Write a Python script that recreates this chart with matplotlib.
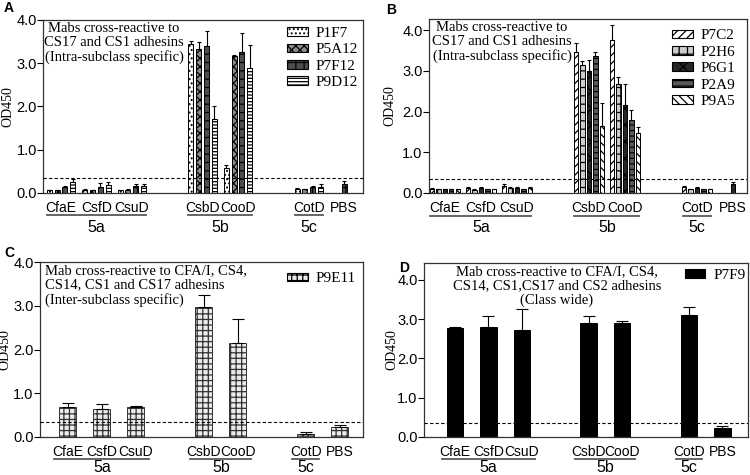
import numpy as np
import matplotlib
import matplotlib.pyplot as plt
from matplotlib.patches import Patch
from matplotlib.transforms import blended_transform_factory

matplotlib.rcParams['font.family'] = 'Liberation Sans'
matplotlib.rcParams['hatch.linewidth'] = 0.9
serif = 'Liberation Serif'

antigens = ['CfaE', 'CsfD', 'CsuD', 'CsbD', 'CooD', 'CotD', 'PBS']
groups = ['5a', '5b', '5c']
group_members = [(0, 2), (3, 4), (5, 5)]
cutoff = 0.35

# A: intra-subclass mabs (values for CfaE..CotD), PBS control separate
mabs_a = ['P1F7', 'P5A12', 'P7F12', 'P9D12']
vals_a = [[0.07, 0.08, 0.07, 3.45, 0.58, 0.10],
          [0.07, 0.06, 0.07, 3.32, 3.17, 0.09],
          [0.14, 0.15, 0.16, 3.40, 3.27, 0.14],
          [0.25, 0.18, 0.16, 1.72, 2.90, 0.15]]
err_a = [[0.01, 0.02, 0.01, 0.07, 0.07, 0.02],
         [0.01, 0.02, 0.02, 0.16, 0.03, 0.01],
         [0.03, 0.07, 0.04, 0.35, 0.43, 0.03],
         [0.07, 0.07, 0.04, 0.30, 0.53, 0.05]]
pbs_a, pbs_err_a = 0.20, 0.07

# B
mabs_b = ['P7C2', 'P2H6', 'P6G1', 'P2A9', 'P9A5']
vals_b = [[0.11, 0.13, 0.18, 3.47, 3.76, 0.14],
          [0.09, 0.08, 0.13, 3.14, 2.67, 0.09],
          [0.09, 0.12, 0.12, 3.00, 2.16, 0.13],
          [0.10, 0.10, 0.09, 3.37, 1.79, 0.10],
          [0.10, 0.09, 0.13, 1.65, 1.47, 0.09]]
err_b = [[0.02, 0.02, 0.03, 0.22, 0.37, 0.02],
         [0.01, 0.01, 0.02, 0.09, 0.17, 0.01],
         [0.01, 0.02, 0.02, 0.27, 0.52, 0.02],
         [0.01, 0.01, 0.01, 0.09, 0.25, 0.01],
         [0.01, 0.01, 0.02, 0.55, 0.14, 0.01]]
pbs_b, pbs_err_b = 0.22, 0.06

# C (inter-subclass) and D (class wide), CfaE..PBS
mab_c = 'P9E11'
vals_c = [0.68, 0.64, 0.68, 2.98, 2.15, 0.08, 0.23]
err_c = [0.09, 0.12, 0.02, 0.27, 0.54, 0.03, 0.05]
mab_d = 'P7F9'
vals_d = [2.77, 2.81, 2.72, 2.89, 2.89, 3.10, 0.24]
err_d = [0.04, 0.27, 0.55, 0.20, 0.07, 0.21, 0.04]

# layout
xpos = np.array([0, 1, 2, 4, 5, 7, 8])
styles_a = [dict(facecolor='white', hatch='....'),
            dict(facecolor='0.55', hatch='xxxx'),
            dict(facecolor='0.3', hatch='++'),
            dict(facecolor='white', hatch='-----')]
styles_b = [dict(facecolor='white', hatch='////'),
            dict(facecolor='0.8', hatch='++'),
            dict(facecolor='0.15', hatch='xx'),
            dict(facecolor='0.35', hatch='---'),
            dict(facecolor='white', hatch='\\\\\\\\')]
style_c = dict(facecolor='0.92', hatch='+++')
style_d = dict(facecolor='black')

fig = plt.figure(figsize=(7.5, 4.75), dpi=100)
ax_a = fig.add_axes([43/750, 1-193/475, 320/750, 173/475])
ax_b = fig.add_axes([429/750, 1-193/475, 318/750, 174/475])
ax_c = fig.add_axes([40/750, 1-437/475, 323/750, 175/475])
ax_d = fig.add_axes([424/750, 1-437/475, 324/750, 174/475])


def err_bars(ax, x, y, e, cap):
    ax.errorbar(x, y, yerr=[np.zeros(len(e)), e], fmt='none', ecolor='black',
                elinewidth=0.8, capsize=cap, capthick=0.8, zorder=3)


def decorate(ax, xlim, ylim, ylab_x, lab_y, line_y, grp_y):
    ax.set_xlim(xlim)
    ax.set_ylim(ylim)
    ax.axhline(cutoff, color='black', ls=(0, (3, 2)), lw=0.8, zorder=4)
    ax.set_yticks([0, 1, 2, 3, 4])
    ax.set_yticklabels(['0.0', '1.0', '2.0', '3.0', '4.0'], fontsize=10.5)
    ax.tick_params(axis='y', length=4, width=0.8, pad=0.5)
    ax.set_xticks([])
    for s in ax.spines.values():
        s.set_linewidth(0.9)
        s.set_color('0.2')
    ax.set_ylabel('OD450', family=serif, fontsize=10)
    ax.yaxis.set_label_coords(ylab_x, 0.5)
    tr = blended_transform_factory(ax.transData, ax.transAxes)
    for p, name in zip(xpos, antigens):
        ax.text(p, lab_y, name, transform=tr, ha='center', va='center', fontsize=10)
    for (i0, i1), g in zip(group_members, groups):
        ax.plot([xpos[i0] - 0.4, xpos[i1] + 0.4], [line_y, line_y], transform=tr,
                color='0.35', lw=1.3, clip_on=False)
        ax.text((xpos[i0] + xpos[i1]) / 2, grp_y, g, transform=tr, ha='center',
                va='center', fontsize=11.5)


def legend(ax, names, styles, x, y):
    handles = [Patch(edgecolor='black', linewidth=0.8, **st) for st in styles]
    ax.legend(handles, names, loc='upper left', bbox_to_anchor=(x, y), frameon=False,
              prop={'family': serif, 'size': 11}, handlelength=1.35, handleheight=0.5,
              labelspacing=0.22, handletextpad=0.5, borderpad=0, borderaxespad=0)


# A
w, step = 0.14, 0.22
for k, (vals, errs, st) in enumerate(zip(vals_a, err_a, styles_a)):
    x = xpos[:6] + (k - 1.5) * step
    ax_a.bar(x, vals, width=w, edgecolor='black', linewidth=0.7, **st)
    err_bars(ax_a, x, vals, errs, 1.2)
ax_a.bar(xpos[6], pbs_a, width=w, edgecolor='black', linewidth=0.7, **styles_a[2])
err_bars(ax_a, [xpos[6]], [pbs_a], [pbs_err_a], 1.2)
decorate(ax_a, (-0.51, 8.53), (0, 4.0), -0.089, -0.087, -0.13, -0.2)
ax_a.text(0.222, 0.99, 'Mabs cross-reactive to\nCS17 and CS1 adhesins\n(Intra-subclass specific)',
          transform=ax_a.transAxes, ha='center', va='top', family=serif, fontsize=10.5,
          linespacing=1.1)
legend(ax_a, mabs_a, styles_a, 0.7625, 0.96)

# B
w, step = 0.12, 0.18
for k, (vals, errs, st) in enumerate(zip(vals_b, err_b, styles_b)):
    x = xpos[:6] + (k - 2) * step
    ax_b.bar(x, vals, width=w, edgecolor='black', linewidth=0.7, **st)
    err_bars(ax_b, x, vals, errs, 1.2)
ax_b.bar(xpos[6], pbs_b, width=w, edgecolor='black', linewidth=0.7, **styles_b[2])
err_bars(ax_b, [xpos[6]], [pbs_b], [pbs_err_b], 1.2)
decorate(ax_b, (-0.44, 8.39), (0, 4.27), -0.102, -0.087, -0.13, -0.2)
ax_b.text(0.23, 0.99, 'Mabs cross-reactive to\nCS17 and CS1 adhesins\n(Intra-subclass specific)',
          transform=ax_b.transAxes, ha='center', va='top', family=serif, fontsize=10.5,
          linespacing=1.1)
legend(ax_b, mabs_b, styles_b, 0.764, 0.94)

# C
ax_c.bar(xpos, vals_c, width=0.5, edgecolor='0.2', linewidth=0.7, **style_c)
err_bars(ax_c, xpos, vals_c, err_c, 4.5)
decorate(ax_c, (-0.82, 8.68), (0, 4.0), -0.088, -0.086, -0.126, -0.175)
ax_c.text(0.015, 0.985, 'Mab cross-reactive to CFA/I, CS4,\nCS14, CS1 and CS17 adhesins\n(Inter-subclass specific)',
          transform=ax_c.transAxes, ha='left', va='top', family=serif, fontsize=10.5,
          linespacing=1.1)
legend(ax_c, [mab_c], [style_c], 0.765, 0.94)

# D
ax_d.bar(xpos, vals_d, width=0.5, edgecolor='black', linewidth=0.7, **style_d)
err_bars(ax_d, xpos, vals_d, err_d, 4.5)
decorate(ax_d, (-0.93, 8.77), (0, 4.43), -0.079, -0.086, -0.126, -0.175)
ax_d.text(0.41, 0.985, 'Mab cross-reactive to CFA/I, CS4,\nCS14, CS1,CS17 and CS2 adhesins\n(Class wide)',
          transform=ax_d.transAxes, ha='center', va='top', family=serif, fontsize=10.5,
          linespacing=1.1)
legend(ax_d, [mab_d], [style_d], 0.805, 0.965)

for letter, (px, py) in zip('ABCD', [(4, 8), (386, 10), (4, 253), (399, 268)]):
    fig.text(px / 750, 1 - py / 475, letter, fontsize=10, fontweight='bold', ha='left', va='center')

fig.savefig('out.png', dpi=100)
